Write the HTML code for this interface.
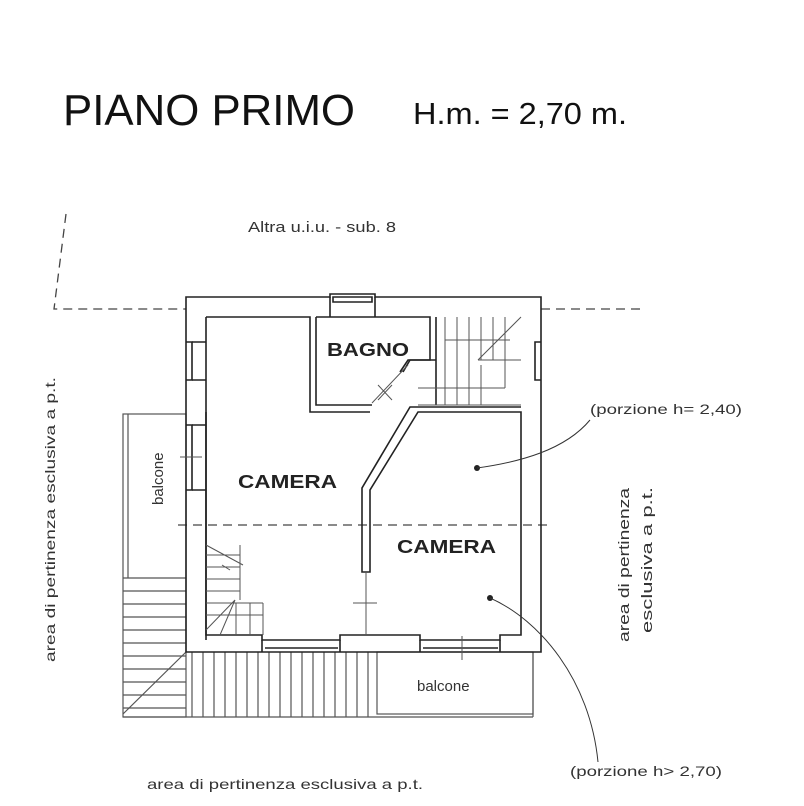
<!DOCTYPE html>
<html><head><meta charset="utf-8"><style>html,body{margin:0;padding:0;background:#fff}svg{display:block}</style></head>
<body>
<svg width="804" height="806" viewBox="0 0 804 806" xmlns="http://www.w3.org/2000/svg" font-family="Liberation Sans, sans-serif">
<rect width="804" height="806" fill="#fff"/>
<text x="63" y="125" font-size="44" textLength="292" lengthAdjust="spacingAndGlyphs" fill="#111">PIANO PRIMO</text>
<text x="413" y="124" font-size="31" textLength="214" lengthAdjust="spacingAndGlyphs" fill="#111">H.m. = 2,70 m.</text>
<text x="248" y="232" font-size="15" textLength="148" lengthAdjust="spacingAndGlyphs" fill="#333">Altra u.i.u. - sub. 8</text>
<g fill="none" stroke="#444" stroke-width="1.3" stroke-dasharray="9,6">
<path d="M66,214 L54,309 L186,309"/>
<path d="M541,309 L640,309"/>
<path d="M178,525 L552,525"/>
</g>
<g fill="none" stroke="#555" stroke-width="1.2">
<rect x="123" y="414" width="63" height="303"/>
<path d="M128,414 L128,578"/>
<path d="M123,578 H186 M123,591 H186 M123,604 H186 M123,617 H186 M123,630 H186 M123,643 H186 M123,656 H186 M123,669 H186 M123,682 H186 M123,695 H186 M123,708 H186"/>
<path d="M123,717 L377,717 M123,714 L186,652"/>
<path d="M192,652V717 M203,652V717 M214,652V717 M225,652V717 M236,652V717 M247,652V717 M258,652V717 M269,652V717 M280,652V717 M291,652V717 M302,652V717 M313,652V717 M324,652V717 M335,652V717 M346,652V717 M357,652V717 M368,652V717"/>
<rect x="377" y="652" width="156" height="62"/>
<path d="M533,652 V717 M377,717 H533"/>
</g>
<g fill="none" stroke="#222" stroke-width="1.6">
<path d="M186,297 H330 V294 H375 V297 H541 V652 H186 Z"/>
<path d="M333,297 H372 V302 H333 Z"/>
<path d="M330,297 V317 M375,297 V317"/>
<path d="M206,317 H310 V412 H370 M206,317 V635 H262 V640 H340 V635 H420 V640 H500 V635 H521 V412 H418 L370,490 V572 H362 V488 L410,407 H521"/>
<path d="M316,317 H430 V360 H408 L400,372 M316,317 V405 H372"/>
<path d="M436,317 V405 M436,360 H410 L403,372"/>
<path d="M206,412 V640"/>
<path d="M186,342 H192 V380 H186 M186,425 H192 V490 H186 M541,342 H535 V380 H541"/>
<path d="M192,342 H206 M192,380 H206 M192,425 H206 M192,490 H206"/>
<path d="M262,640 V652 M340,640 V652 M420,640 V652 M500,640 V652 M265,648 H338 M423,648 H498"/>
</g>
<g fill="none" stroke="#555" stroke-width="1">
<path d="M445,317 V405 M457,317 V405 M469,317 V405 M481,317 V360 M493,317 V360 M505,317 V360 M457,365 V405 M469,365 V405 M481,365 V405"/>
<path d="M445,340 H510 M478,360 H521 M418,388 H505 M418,405 H521 M505,340 V388 M478,360 L521,317"/>
<path d="M372,403 L408,365 M378,385 L392,400 M392,385 L378,400"/>
<path d="M206,545 L243,565 M206,555 H240 M206,567 H240 M206,579 H240 M206,591 H240 M206,603 H263 M206,615 H263 M236,603 V635 M250,603 V635 M263,603 V635 M240,545 V600 M206,630 L235,600 M220,635 L235,600 M222,565 L230,570"/>
<path d="M180,457 H202 M353,603 H377 M366,572 V635 M462,636 V660"/>
</g>
<g fill="#222">
<text x="327" y="356" font-size="18" font-weight="bold" textLength="82" lengthAdjust="spacingAndGlyphs">BAGNO</text>
<text x="238" y="488" font-size="18" font-weight="bold" textLength="99" lengthAdjust="spacingAndGlyphs">CAMERA</text>
<text x="397" y="553" font-size="18" font-weight="bold" textLength="99" lengthAdjust="spacingAndGlyphs">CAMERA</text>
<text x="417" y="691" font-size="15" fill="#333">balcone</text>
<text transform="translate(163,505) rotate(-90)" font-size="15" fill="#333">balcone</text>
<text transform="translate(55,662) rotate(-90)" font-size="14" textLength="285" lengthAdjust="spacingAndGlyphs" fill="#333">area di pertinenza esclusiva a p.t.</text>
<text transform="translate(629,642) rotate(-90)" font-size="15" textLength="154" lengthAdjust="spacingAndGlyphs" fill="#333">area di pertinenza</text>
<text transform="translate(652,633) rotate(-90)" font-size="15" textLength="146" lengthAdjust="spacingAndGlyphs" fill="#333">esclusiva a p.t.</text>
<text x="147" y="789" font-size="14" textLength="276" lengthAdjust="spacingAndGlyphs" fill="#333">area di pertinenza esclusiva a p.t.</text>
<text x="590" y="414" font-size="14" textLength="152" lengthAdjust="spacingAndGlyphs" fill="#333">(porzione h= 2,40)</text>
<text x="570" y="776" font-size="14" textLength="152" lengthAdjust="spacingAndGlyphs" fill="#333">(porzione h&gt; 2,70)</text>
<circle cx="477" cy="468" r="3"/>
<circle cx="490" cy="598" r="3"/>
</g>
<g fill="none" stroke="#333" stroke-width="1">
<path d="M477,468 C520,462 565,450 590,420"/>
<path d="M490,598 C540,620 590,680 598,762"/>
</g>
</svg>
</body></html>
